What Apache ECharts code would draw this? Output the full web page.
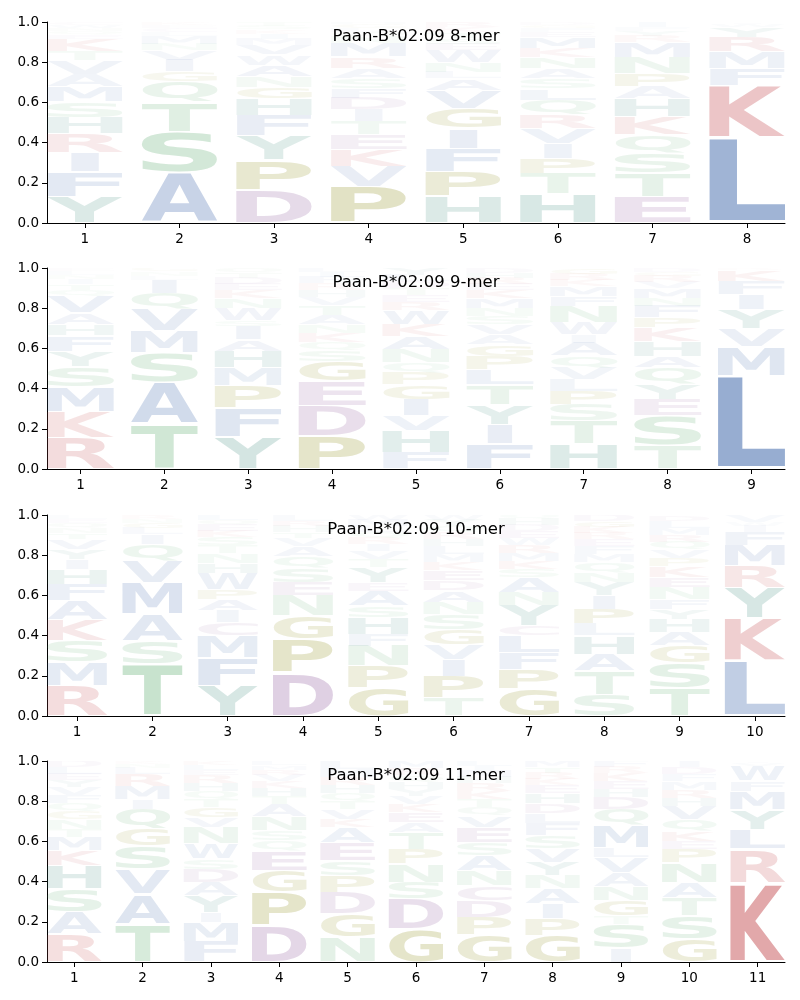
<!DOCTYPE html>
<html><head><meta charset="utf-8">
<script src="https://cdn.jsdelivr.net/npm/echarts@6/dist/echarts.min.js"></script>
<style>html,body{margin:0;padding:0;background:#fff}#c{width:800px;height:1000px}</style>
</head><body><div id="c"></div>
<script>
// ---------- DATA (letter, frequency), bottom to top for each position ----------
const titles = ['Paan-B*02:09 8-mer', 'Paan-B*02:09 9-mer', 'Paan-B*02:09 10-mer', 'Paan-B*02:09 11-mer'];
const yTicks = [0, 0.2, 0.4, 0.6, 0.8, 1.0];

const mer8 = [
  [['Y',.13],['F',.125],['I',.095],['R',.093],['H',.083],['S',.077],['M',.075],['A',.062],['V',.07],['T',.046],['K',.061],['E',.02],['Q',.02],['N',.015],['W',.015],['C',.013]],
  [['A',.248],['S',.207],['T',.148],['Q',.1],['G',.05],['I',.058],['V',.05],['N',.03],['M',.04],['L',.02],['C',.02],['E',.015],['K',.014]],
  [['D',.165],['P',.149],['Y',.12],['F',.1],['H',.083],['G',.058],['N',.054],['A',.058],['W',.05],['V',.05],['M',.03],['I',.025],['K',.02],['S',.02],['T',.018]],
  [['P',.182],['V',.1],['K',.083],['E',.074],['T',.066],['I',.058],['D',.058],['F',.05],['S',.05],['A',.05],['R',.057],['M',.067],['N',.03],['Q',.025],['L',.02],['G',.02],['H',.01]],
  [['H',.132],['P',.124],['F',.116],['I',.099],['G',.099],['V',.091],['A',.058],['L',.03],['N',.05],['W',.06],['E',.03],['S',.03],['T',.03],['K',.025],['R',.026]],
  [['H',.145],['T',.103],['P',.074],['I',.075],['V',.074],['R',.066],['Q',.075],['L',.057],['S',.05],['A',.05],['N',.057],['K',.044],['M',.055],['E',.025],['F',.02],['G',.015],['D',.015]],
  [['E',.132],['T',.116],['S',.099],['Q',.091],['K',.091],['H',.091],['A',.061],['P',.063],['N',.082],['M',.074],['R',.03],['Y',.025],['F',.02],['I',.025]],
  [['L',.425],['K',.261],['F',.083],['M',.082],['R',.075],['Y',.05],['W',.015],['I',.009]]
];

const mer9 = [
  [['R',.157],['K',.127],['M',.126],['S',.102],['Y',.075],['F',.077],['H',.055],['A',.058],['V',.083],['Q',.03],['T',.03],['I',.025],['N',.02],['L',.02],['E',.015]],
  [['T',.223],['A',.207],['S',.148],['M',.108],['V',.107],['Q',.083],['I',.066],['L',.02],['N',.02],['G',.018]],
  [['Y',.16],['F',.146],['P',.111],['M',.087],['H',.083],['A',.058],['I',.066],['S',.03],['W',.06],['N',.05],['K',.04],['E',.03],['D',.03],['T',.025],['Q',.024]],
  [['P',.165],['D',.152],['E',.121],['G',.099],['S',.055],['Q',.04],['K',.045],['N',.04],['A',.05],['T',.05],['V',.04],['H',.035],['R',.03],['F',.03],['I',.025],['L',.023]],
  [['F',.083],['H',.107],['V',.074],['I',.083],['G',.073],['P',.059],['Q',.05],['N',.065],['A',.065],['K',.06],['W',.07],['R',.04],['E',.035],['T',.035],['D',.035],['L',.03],['Y',.036]],
  [['F',.124],['I',.099],['Y',.099],['T',.099],['L',.075],['P',.066],['G',.058],['A',.05],['V',.05],['S',.04],['N',.04],['M',.05],['K',.04],['E',.03],['R',.03],['H',.025],['D',.025]],
  [['H',.124],['T',.116],['S',.082],['P',.066],['L',.058],['V',.058],['Q',.058],['A',.066],['I',.041],['W',.058],['N',.083],['F',.05],['M',.05],['K',.03],['R',.03],['G',.03]],
  [['T',.116],['S',.148],['E',.083],['Y',.074],['Q',.083],['A',.058],['H',.074],['K',.066],['P',.05],['F',.058],['N',.04],['M',.05],['V',.03],['R',.03],['G',.02],['D',.02]],
  [['L',.465],['M',.143],['V',.09],['Y',.095],['I',.075],['F',.066],['K',.056],['R',.01]]
];

const mer10 = [
  [['R',.153],['M',.116],['S',.105],['K',.104],['A',.095],['F',.083],['H',.075],['I',.05],['Y',.05],['V',.05],['T',.03],['N',.025],['Q',.025],['E',.02],['L',.019]],
  [['T',.257],['S',.117],['A',.133],['M',.157],['V',.108],['Q',.083],['I',.05],['L',.03],['G',.025],['N',.02],['R',.02]],
  [['Y',.15],['F',.14],['M',.109],['C',.066],['I',.058],['A',.058],['P',.05],['W',.08],['H',.05],['N',.05],['T',.04],['S',.04],['K',.03],['E',.03],['Q',.025],['L',.024]],
  [['D',.216],['P',.166],['G',.116],['N',.1],['E',.067],['S',.07],['Q',.06],['A',.05],['V',.04],['T',.03],['H',.03],['R',.025],['L',.03]],
  [['G',.141],['P',.108],['N',.1],['F',.058],['H',.083],['S',.058],['A',.075],['E',.04],['Y',.075],['T',.04],['V',.04],['I',.035],['R',.03],['Q',.03],['L',.03],['M',.03],['W',.027]],
  [['T',.091],['P',.108],['I',.083],['V',.075],['G',.075],['S',.075],['N',.058],['A',.058],['D',.05],['E',.05],['K',.04],['M',.04],['L',.04],['H',.035],['R',.035],['Q',.03],['Y',.03],['W',.027]],
  [['G',.133],['P',.1],['F',.083],['L',.083],['C',.05],['Y',.1],['N',.065],['A',.075],['S',.04],['K',.04],['M',.04],['R',.04],['W',.035],['E',.035],['D',.03],['H',.03],['Q',.021]],
  [['S',.108],['T',.116],['A',.083],['H',.092],['L',.058],['P',.075],['I',.066],['Y',.066],['N',.05],['Q',.05],['M',.04],['F',.04],['E',.035],['R',.03],['K',.03],['G',.03],['D',.031]],
  [['T',.141],['S',.125],['G',.083],['A',.066],['H',.067],['Y',.05],['F',.05],['N',.059],['E',.05],['K',.055],['P',.04],['V',.04],['Q',.04],['R',.035],['M',.035],['L',.035],['D',.029]],
  [['L',.275],['K',.215],['Y',.15],['R',.11],['M',.1],['F',.066],['I',.03],['W',.02],['V',.034]]
];

const mer11 = [
  [['R',.14],['A',.108],['S',.116],['H',.115],['K',.075],['M',.066],['T',.04],['N',.05],['G',.04],['Q',.04],['F',.04],['V',.04],['Y',.035],['E',.03],['L',.035],['D',.03]],
  [['T',.19],['A',.149],['V',.124],['S',.116],['G',.082],['Q',.099],['I',.05],['M',.066],['R',.058],['L',.03],['N',.02],['K',.016]],
  [['F',.1],['M',.098],['I',.05],['Y',.083],['A',.066],['D',.066],['S',.05],['W',.075],['N',.081],['V',.05],['G',.05],['T',.04],['Q',.04],['H',.04],['R',.04],['E',.025],['L',.025],['K',.021]],
  [['D',.182],['P',.165],['G',.108],['E',.099],['Q',.05],['S',.05],['N',.07],['A',.06],['T',.04],['H',.04],['K',.035],['V',.03],['R',.025],['M',.023],['L',.023]],
  [['N',.124],['G',.116],['D',.107],['P',.083],['S',.074],['E',.091],['A',.075],['K',.04],['V',.05],['T',.04],['Q',.04],['H',.04],['R',.04],['M',.04],['L',.04]],
  [['G',.165],['D',.149],['S',.083],['N',.091],['P',.074],['T',.083],['A',.05],['E',.05],['K',.04],['V',.04],['Y',.035],['H',.035],['Q',.035],['R',.035],['M',.035]],
  [['G',.133],['P',.09],['D',.083],['C',.074],['N',.075],['A',.074],['S',.066],['E',.075],['V',.057],['Q',.043],['T',.04],['K',.04],['R',.04],['H',.03],['M',.03],['I',.025],['L',.025]],
  [['G',.133],['P',.082],['I',.074],['A',.075],['N',.066],['Y',.066],['V',.066],['S',.066],['F',.06],['L',.05],['D',.05],['H',.05],['E',.04],['K',.03],['R',.03],['T',.03],['M',.032]],
  [['I',.07],['S',.12],['T',.04],['G',.075],['N',.07],['A',.07],['V',.075],['L',.05],['M',.11],['Q',.08],['D',.06],['H',.04],['E',.04],['K',.04],['R',.03],['F',.03]],
  [['G',.116],['S',.115],['T',.091],['A',.075],['N',.099],['P',.066],['E',.04],['K',.05],['Q',.058],['V',.067],['H',.04],['R',.04],['M',.04],['F',.035],['D',.035],['I',.033]],
  [['K',.395],['R',.167],['L',.099],['Y',.099],['M',.091],['F',.05],['W',.075],['V',.015],['I',.009]]
];

const panels = [mer8, mer9, mer10, mer11];

// ---------- STYLE ----------
const groupColors = {
  blue:   [76, 114, 176],
  red:    [196, 78, 82],
  green:  [85, 168, 104],
  purple: [137, 81, 151],
  olive:  [128, 128, 0],
  teal:   [40, 125, 110]
};
const letterGroup = {
  A:'blue', V:'blue', L:'blue', I:'blue', M:'blue', F:'blue', W:'blue',
  K:'red', R:'red',
  S:'green', T:'green', N:'green', Q:'green',
  D:'purple', E:'purple', C:'purple',
  G:'olive', P:'olive',
  Y:'teal', H:'teal'
};
const gridTops = [22, 268, 515, 761];
const gridHeight = 201;
const LETTER_W = 0.8, VPAD = 0.03;
const FONT = 'bold 100px "DejaVu Sans"';

// glyph ink metrics (relative to center/middle anchor)
const mctx = document.createElement('canvas').getContext('2d');
mctx.font = FONT; mctx.textBaseline = 'middle'; mctx.textAlign = 'center';
const mcache = {};
function metrics(ch) {
  if (!mcache[ch]) {
    const m = mctx.measureText(ch);
    const l = m.actualBoundingBoxLeft, r = m.actualBoundingBoxRight;
    const a = m.actualBoundingBoxAscent, d = m.actualBoundingBoxDescent;
    mcache[ch] = { W: l + r, H: a + d, cx: (r - l) / 2, cy: (d - a) / 2 };
  }
  return mcache[ch];
}

function makeRender(letters) {
  return function (params, api) {
    const pos = api.value(0), y0 = api.value(1), y1 = api.value(2);
    const ch = letters[params.dataIndex];
    const h = y1 - y0;
    const bl = api.coord([pos - LETTER_W / 2, y0 + h * VPAD]);
    const tr = api.coord([pos + LETTER_W / 2, y1 - h * VPAD]);
    const w = tr[0] - bl[0], ph = bl[1] - tr[1];
    if (ph <= 0.05) return null;
    const m = metrics(ch), mE = metrics('E');
    const sx = Math.min(w / m.W, w / mE.W);
    const sy = ph / m.H;
    const cxp = (bl[0] + tr[0]) / 2, cyp = (bl[1] + tr[1]) / 2;
    const c = groupColors[letterGroup[ch]];
    const alpha = Math.min(1, 1.25 * h);
    return {
      type: 'text',
      x: cxp - sx * m.cx,
      y: cyp - sy * m.cy,
      scaleX: sx, scaleY: sy,
      silent: true,
      style: {
        text: ch, font: FONT,
        fill: `rgba(${c[0]},${c[1]},${c[2]},${alpha.toFixed(3)})`,
        align: 'center', verticalAlign: 'middle',
        textAlign: 'center', textVerticalAlign: 'middle'
      }
    };
  };
}

const grids = [], xAxes = [], yAxes = [], series = [], titleOpts = [];
panels.forEach((cols, i) => {
  const n = cols.length;
  const rows = [], letters = [];
  cols.forEach((stack, c) => {
    let acc = 0;
    stack.forEach(([ch, v]) => {
      rows.push([c + 1, acc, acc + v]);
      letters.push(ch);
      acc += v;
    });
  });
  const positions = cols.map((_, c) => c + 1);
  grids.push({ left: 47, right: 15, top: gridTops[i], height: gridHeight });
  xAxes.push({
    type: 'value', gridIndex: i, min: 0.6, max: n + 0.4,
    axisLine: { show: true, onZero: false, lineStyle: { color: '#000', width: 1 } },
    axisTick: { show: true, length: 5, lineStyle: { color: '#000' }, customValues: positions },
    axisLabel: { color: '#000', fontSize: 13.5, fontFamily: 'DejaVu Sans', margin: 9, customValues: positions },
    splitLine: { show: false }
  });
  yAxes.push({
    type: 'value', gridIndex: i, min: 0, max: 1, interval: 0.2,
    axisLine: { show: true, lineStyle: { color: '#000', width: 1 } },
    axisTick: { show: true, length: 5, lineStyle: { color: '#000' } },
    axisLabel: { color: '#000', fontSize: 13.5, fontFamily: 'DejaVu Sans', margin: 8, formatter: v => v.toFixed(1) },
    splitLine: { show: false }
  });
  series.push({
    type: 'custom', xAxisIndex: i, yAxisIndex: i,
    data: rows, encode: { x: 0, y: [1, 2] },
    renderItem: makeRender(letters),
    clip: true, silent: true, animation: false
  });
  titleOpts.push({
    text: titles[i], left: 416, top: gridTops[i] + 6, textAlign: 'center', padding: 0,
    textStyle: { fontSize: 16.5, fontWeight: 'normal', color: '#000', fontFamily: 'DejaVu Sans' }
  });
});

const chart = echarts.init(document.getElementById('c'), null, { renderer: 'canvas' });
chart.setOption({
  animation: false,
  backgroundColor: '#fff',
  title: titleOpts,
  grid: grids, xAxis: xAxes, yAxis: yAxes, series: series
});
</script>
</body></html>
